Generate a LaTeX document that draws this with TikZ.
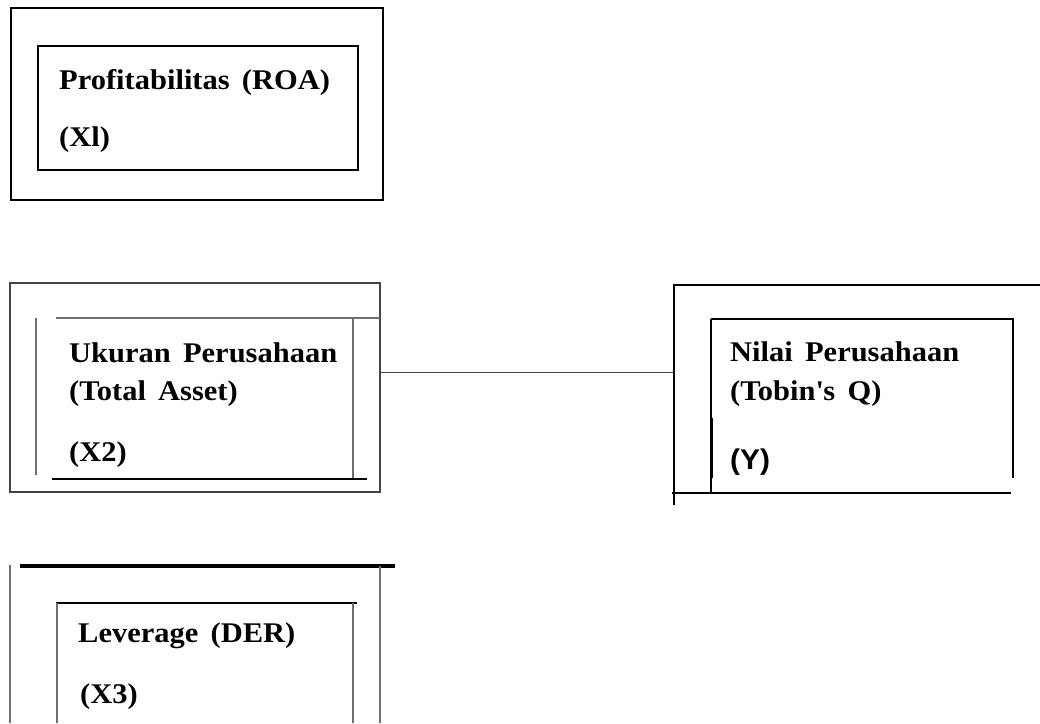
\documentclass[tikz,border=0pt]{standalone}
\usepackage{fontspec}
\setmainfont[FakeStretch=1.07,WordSpace=1.6]{Liberation Serif}
\newfontfamily\ysans[FakeStretch=1.05]{Liberation Sans}
\definecolor{framegray}{HTML}{444444}
\definecolor{softgray}{HTML}{6E6E6E}

\begin{document}
\begin{tikzpicture}[x=1pt,y=-1pt]
      \tikzstyle{every node}=[anchor=base west,inner sep=0pt,font=\fontsize{28.5}{33}\selectfont\bfseries];
      \tikzstyle{heavy}=[draw,line width=2.6pt];
      \tikzstyle{plain}=[draw,line width=1.6pt];
      \tikzstyle{faint}=[draw,softgray,line width=1.3pt];
        \useasboundingbox (0,0) rectangle (1040,723);

        % profitabilitas
        \path[heavy] (11,8) rectangle (383,200);
        \path[plain] (38,46) rectangle (358,170);
        \node (roa) at (59,89) {Profitabilitas (ROA)};
        \node (roaid) at (59,146) {(Xl)};

        % ukuran perusahaan
        \path[draw,framegray,line width=1.2pt] (10,283) rectangle (380,492);
        \path[faint] (36,318) -- (36,475);
        \path[faint] (56,318) -- (380,318);
        \path[faint] (353,318) -- (353,478);
        \path[draw,line width=2pt] (52,479) -- (367,479);
        \node (size) at (69,362) {Ukuran Perusahaan};
        \node (sizename) at (69,400) {(Total Asset)};
        \node (sizeid) at (69,461) {(X2)};

        % nilai perusahaan
        \path[heavy] (1040,285) -- (674,285) -- (674,505);
        \path[plain] (672,493) -- (1011,493);
        \path[draw,line width=2pt] (711,319) -- (1013,319) -- (1013,478);
        \path[plain] (711,319) -- (711,493);
        \path[draw,line width=2.2pt] (712,418) -- (712,478);
        \node (tobin) at (730,361) {Nilai Perusahaan};
        \node (tobinname) at (730,400) {(Tobin\textquotesingle s Q)};
        \node[font=\fontsize{28.5}{33}\selectfont\ysans\bfseries] (tobinid) at (730,469) {(Y)};

        % leverage
        \path[faint] (10,565) -- (10,723);
        \path[draw,line width=4pt] (20,566) -- (395,566);
        \path[faint] (380,566) -- (380,723);
        \path[plain] (56,603) -- (357,603);
        \path[faint] (57,603) -- (57,723);
        \path[faint] (353,603) -- (353,723);
        \node (der) at (78,642) {Leverage (DER)};
        \node (derid) at (80,703) {(X3)};

        \coordinate (sizeright) at (380,372);
        \coordinate (tobinleft) at (674,372);
        \path[draw,framegray,line width=1pt] (sizeright) -- (tobinleft);
    \end{tikzpicture}
\end{document}
